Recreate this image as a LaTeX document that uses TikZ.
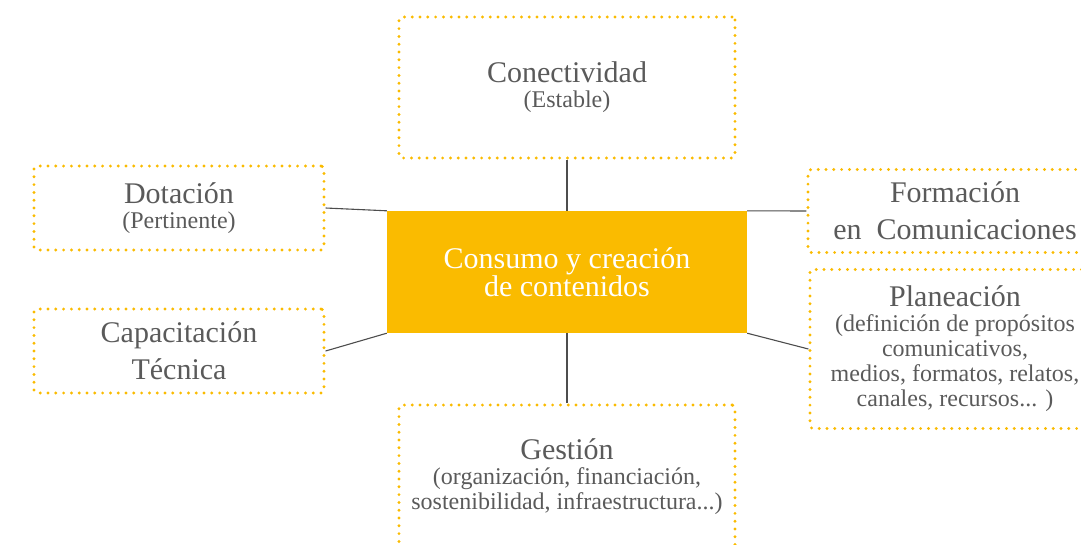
\documentclass[tikz,border=0pt]{standalone}
\usepackage{fontspec}
\setmainfont{Liberation Serif}
\usetikzlibrary{positioning}

\definecolor{amarillo}{HTML}{FABB00}
\definecolor{gristexto}{HTML}{5A5A5A}
\definecolor{grislinea}{HTML}{4D4D4D}

\tikzset{
	caja/.style={draw=amarillo, line width=3.2pt, line cap=round,
		dash pattern=on 0pt off 7.8pt, rounded corners=3pt,
		text=gristexto, align=center, inner sep=0pt,
		font=\fontsize{24}{25}\selectfont},
	doble/.style={font=\fontsize{30}{37}\selectfont},
	centro/.style={fill=amarillo, text=white, align=center, inner sep=0pt,
		minimum width=360pt, minimum height=122pt,
		font=\fontsize{30}{25}\selectfont},
	enlace/.style={draw=grislinea, line width=1.1pt}
}
\newcommand{\titulo}[1]{{\fontsize{30}{25}\selectfont #1}}

\begin{document}
\begin{tikzpicture}
	[	x=1pt,				% un pixel del original
		y=-1pt	]			% eje y hacia abajo
	\useasboundingbox (0,0) rectangle (1081,544);
	\clip (0,0) rectangle (1081,544);						% las cajas de la derecha y de abajo se cortan
	\node[centro] (ctr) at (567,272) {Consumo y creación\\de contenidos};
	\node[caja,minimum width=336pt,minimum height=141pt] (con) at (567,87.5)
		{\titulo{Conectividad}\\(Estable)};
	\node[caja,minimum width=290pt,minimum height=84pt] (dot) at (179,208)
		{\titulo{Dotación}\\(Pertinente)};
	\node[caja,doble,minimum width=290pt,minimum height=84pt] (cap) at (179,351)
		{Capacitación\\Técnica};
	\node[caja,doble,minimum width=294pt,minimum height=83pt] (form) at (955,211)
		{Formación\\en\ \ Comunicaciones};
	\node[caja,minimum width=290pt,minimum height=159pt] (plan) at (955,349)
		{\titulo{Planeación}\\(definición de propósitos\\comunicativos,\\medios, formatos, relatos,\\canales, recursos... )};
	\node[caja,minimum width=336pt,minimum height=143pt] (ges) at (567,476.5)
		{\titulo{Gestión}\\(organización, financiación,\\sostenibilidad, infraestructura...)};
	% enlaces con el centro
	\foreach \a/\b in {con.south/ctr.north, ctr.south/ges.north, dot.east/ctr.north west,
		cap.east/ctr.south west, ctr.north east/form.west, ctr.south east/plan.west}
		\draw[enlace] (\a) -- (\b);
\end{tikzpicture}
\end{document}
